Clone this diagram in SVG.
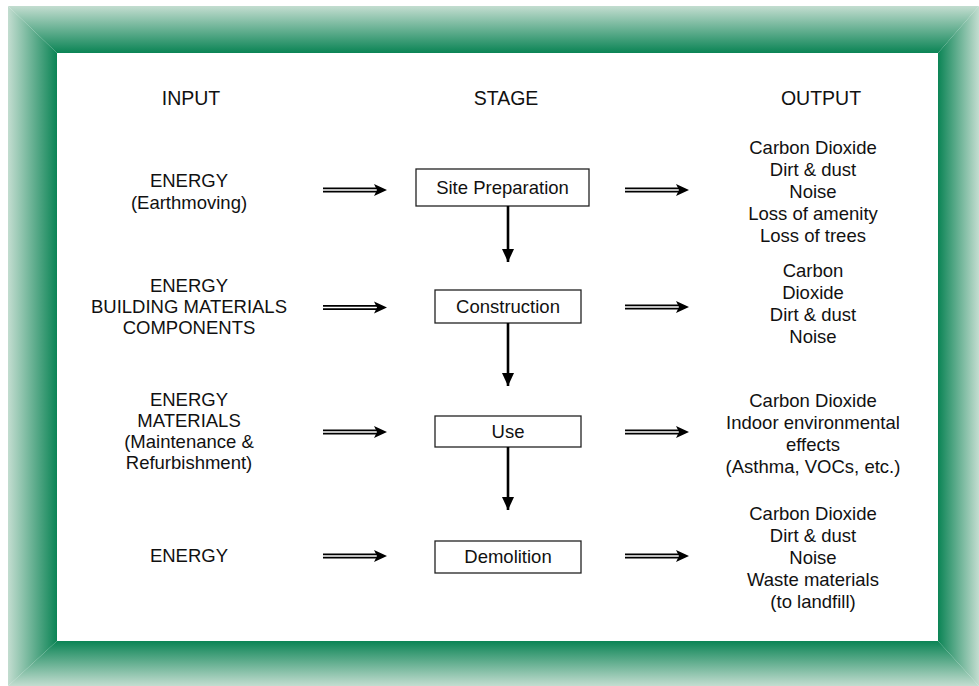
<svg xmlns="http://www.w3.org/2000/svg" xmlns:xlink="http://www.w3.org/1999/xlink" width="979" height="686" viewBox="0 0 979 686">
<style>
text{font-family:"Liberation Sans",Arial,Helvetica,sans-serif;font-size:18.5px;fill:#111;text-anchor:middle}
.hdr{font-size:19.5px}
.box{fill:#fff;stroke:#222;stroke-width:1.3}
</style>
<defs>
<linearGradient id="gT" gradientUnits="userSpaceOnUse" x1="0" y1="6" x2="0" y2="53"><stop offset="0" stop-color="#c3ddd0"/><stop offset="1" stop-color="#0b8455"/></linearGradient>
<linearGradient id="gB" gradientUnits="userSpaceOnUse" x1="0" y1="686" x2="0" y2="641"><stop offset="0" stop-color="#c3ddd0"/><stop offset="1" stop-color="#0b8455"/></linearGradient>
<linearGradient id="gL" gradientUnits="userSpaceOnUse" x1="8" y1="0" x2="57" y2="0"><stop offset="0" stop-color="#c3ddd0"/><stop offset="1" stop-color="#0b8455"/></linearGradient>
<linearGradient id="gR" gradientUnits="userSpaceOnUse" x1="979" y1="0" x2="938" y2="0"><stop offset="0" stop-color="#c3ddd0"/><stop offset="1" stop-color="#0b8455"/></linearGradient>
<g id="dbl">
<path d="M0,0 H56" stroke="#000" stroke-width="5"/>
<path d="M0,0 H58" stroke="#fff" stroke-width="1.5"/>
<path d="M64,0 L51,-6 L54,0 L51,6 Z" fill="#000"/>
</g>
<g id="down">
<path d="M0,0 V-10" stroke="#000" stroke-width="2.6"/>
<path d="M0,0 L-6,-13 L6,-13 Z" fill="#000"/>
</g>
</defs>
<rect width="979" height="686" fill="#fff"/>
<g id="frame">
<polygon points="8,6 979,6 938,53 57,53" fill="url(#gT)"/>
<polygon points="8,686 979,686 938,641 57,641" fill="url(#gB)"/>
<polygon points="8,6 57,53 57,641 8,686" fill="url(#gL)"/>
<polygon points="979,6 938,53 938,641 979,686" fill="url(#gR)"/>
</g>
<g id="headers">
<text class="hdr" x="191" y="105">INPUT</text>
<text class="hdr" x="506" y="105">STAGE</text>
<text class="hdr" x="821" y="105">OUTPUT</text>
</g>
<g id="input1"><text x="189" y="187">ENERGY</text><text x="189" y="209">(Earthmoving)</text></g>
<g id="input2"><text x="189" y="292">ENERGY</text><text x="189" y="313">BUILDING MATERIALS</text><text x="189" y="334">COMPONENTS</text></g>
<g id="input3"><text x="189" y="406">ENERGY</text><text x="189" y="427">MATERIALS</text><text x="189" y="448">(Maintenance &amp;</text><text x="189" y="469">Refurbishment)</text></g>
<g id="input4"><text x="189" y="562">ENERGY</text></g>
<g id="site-preparation"><rect class="box" x="416" y="169" width="173" height="37"/><text x="502.5" y="194">Site Preparation</text></g>
<g id="construction"><rect class="box" x="435" y="290" width="146" height="33"/><text x="508" y="313">Construction</text></g>
<g id="use"><rect class="box" x="435" y="416" width="146" height="31"/><text x="508" y="438">Use</text></g>
<g id="demolition"><rect class="box" x="435" y="541" width="146" height="32"/><text x="508" y="563">Demolition</text></g>
<g id="output1"><text x="813" y="154">Carbon Dioxide</text><text x="813" y="176">Dirt &amp; dust</text><text x="813" y="198">Noise</text><text x="813" y="220">Loss of amenity</text><text x="813" y="242">Loss of trees</text></g>
<g id="output2"><text x="813" y="277">Carbon</text><text x="813" y="299">Dioxide</text><text x="813" y="321">Dirt &amp; dust</text><text x="813" y="343">Noise</text></g>
<g id="output3"><text x="813" y="407">Carbon Dioxide</text><text x="813" y="429">Indoor environmental</text><text x="813" y="451">effects</text><text x="813" y="473">(Asthma, VOCs, etc.)</text></g>
<g id="output4"><text x="813" y="520">Carbon Dioxide</text><text x="813" y="542">Dirt &amp; dust</text><text x="813" y="564">Noise</text><text x="813" y="586">Waste materials</text><text x="813" y="608">(to landfill)</text></g>
<g id="connectors">
<use xlink:href="#dbl" x="323" y="190"/>
<use xlink:href="#dbl" x="323" y="307.5"/>
<use xlink:href="#dbl" x="323" y="432"/>
<use xlink:href="#dbl" x="323" y="556"/>
<use xlink:href="#dbl" x="625" y="190"/>
<use xlink:href="#dbl" x="625" y="307"/>
<use xlink:href="#dbl" x="625" y="432"/>
<use xlink:href="#dbl" x="625" y="556"/>
<path d="M508,206 V252" stroke="#000" stroke-width="2.6"/><use xlink:href="#down" x="508" y="262"/>
<path d="M508,323 V376" stroke="#000" stroke-width="2.6"/><use xlink:href="#down" x="508" y="386"/>
<path d="M508,447 V500" stroke="#000" stroke-width="2.6"/><use xlink:href="#down" x="508" y="510"/>
</g>
</svg>
